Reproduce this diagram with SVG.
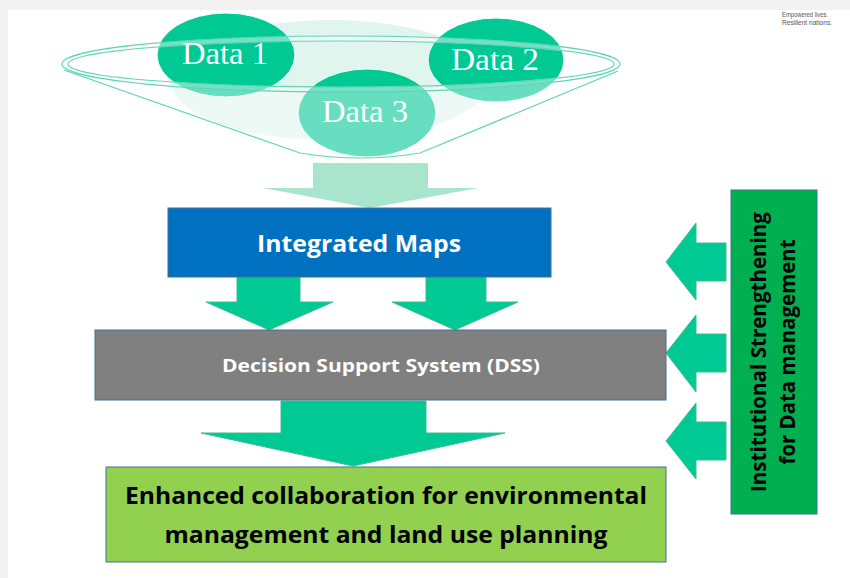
<svg xmlns="http://www.w3.org/2000/svg" width="850" height="578" viewBox="0 0 850 578">
<style>
.data{fill:#00c994;stroke:#ffffff;stroke-width:1}
.dlabel{font-family:"Liberation Serif","Times New Roman",serif;font-size:32px;fill:#ffffff;text-anchor:middle}
.btext{font-family:"Open Sans","Noto Sans",sans-serif;font-weight:bold;text-anchor:middle}
.garrow{fill:#00c994;stroke:#3dbd93;stroke-width:1}
.rim{fill:none;stroke:#5fd5b5;stroke-width:1.2}
.box{stroke:#41719c;stroke-width:1}
</style>
<rect x="0" y="0" width="850" height="578" fill="#f2f2f2"/>
<rect x="8" y="10" width="842" height="568" fill="#ffffff"/>
<g id="tagline" font-family="Liberation Sans, Arial, sans-serif" font-size="6.5" fill="#555555">
<text x="782" y="17" textLength="46" lengthAdjust="spacingAndGlyphs">Empowered lives.</text>
<text x="782" y="25" textLength="50" lengthAdjust="spacingAndGlyphs">Resilient nations.</text>
</g>
<g id="funnel">
<ellipse cx="330" cy="80" rx="160" ry="60" fill="#e0f5ed"/>
</g>
<g id="data1"><ellipse class="data" cx="226" cy="55" rx="69" ry="42"/></g>
<g id="data2"><ellipse class="data" cx="496" cy="60" rx="68" ry="42"/></g>
<g id="data3"><ellipse class="data" cx="367" cy="113" rx="69" ry="44"/></g>
<g id="funnel-front">
<path d="M62,64 A279,28 0 0 0 620,64 L420,153 Q360,163 300,153 Z" fill="#ffffff" fill-opacity="0.4"/>
<ellipse cx="341" cy="64" rx="276" ry="25.5" fill="none" stroke="#ffffff" stroke-opacity="0.45" stroke-width="5"/>
<ellipse class="rim" cx="341" cy="64" rx="279" ry="28"/>
<ellipse class="rim" cx="341" cy="64" rx="273" ry="23"/>
<path class="rim" d="M64,70 L300,153 Q360,163 420,153 L618,71"/>
<text class="dlabel" x="225" y="64" textLength="86" lengthAdjust="spacingAndGlyphs">Data 1</text>
<text class="dlabel" x="495" y="70" textLength="88" lengthAdjust="spacingAndGlyphs">Data 2</text>
<text class="dlabel" x="365" y="122" textLength="86" lengthAdjust="spacingAndGlyphs">Data 3</text>
</g>
<g id="connectors">
<polygon points="313,163 428,163 428,188 478,188 370,208 263,188 313,188" fill="#a8e5cc"/>
<polygon class="garrow" points="237,277 300,277 300,302 333,302 269,330 206,302 237,302"/>
<polygon class="garrow" points="426,277 486,277 486,302 518,302 455,330 392,302 426,302"/>
<polygon class="garrow" points="281,401 426,401 426,433 505,433 353,466 201,433 281,433"/>
<polygon class="garrow" points="666,262 696,223 696,243 726,243 726,281 696,281 696,300"/>
<polygon class="garrow" points="666,353 696,315 696,334 726,334 726,372 696,372 696,392"/>
<polygon class="garrow" points="666,441 696,403 696,422 726,422 726,460 696,460 696,479"/>
</g>
<g id="integrated-maps">
<rect class="box" x="168" y="208" width="383" height="69" fill="#0070c0"/>
<text class="btext" x="359" y="252" font-size="23" fill="#ffffff" textLength="204" lengthAdjust="spacingAndGlyphs">Integrated Maps</text>
</g>
<g id="dss">
<rect class="box" x="95" y="330" width="571" height="70" fill="#808080"/>
<text class="btext" x="381" y="372" font-size="18.5" fill="#ffffff" textLength="318" lengthAdjust="spacingAndGlyphs">Decision Support System (DSS)</text>
</g>
<g id="enhanced">
<rect class="box" x="106" y="467" width="560" height="95" fill="#92d050"/>
<text class="btext" x="386" y="504" font-size="24" fill="#000000" textLength="522" lengthAdjust="spacingAndGlyphs">Enhanced collaboration for environmental</text>
<text class="btext" x="386" y="543" font-size="24" fill="#000000" textLength="443" lengthAdjust="spacingAndGlyphs">management and land use planning</text>
</g>
<g id="institutional">
<rect class="box" x="731" y="190" width="86" height="324" fill="#00b050"/>
<text class="btext" transform="translate(766,352) rotate(-90)" font-size="21" fill="#000000" textLength="280" lengthAdjust="spacingAndGlyphs">Institutional Strengthening</text>
<text class="btext" transform="translate(795,352) rotate(-90)" font-size="21" fill="#000000" textLength="225" lengthAdjust="spacingAndGlyphs">for Data management</text>
</g>
</svg>
